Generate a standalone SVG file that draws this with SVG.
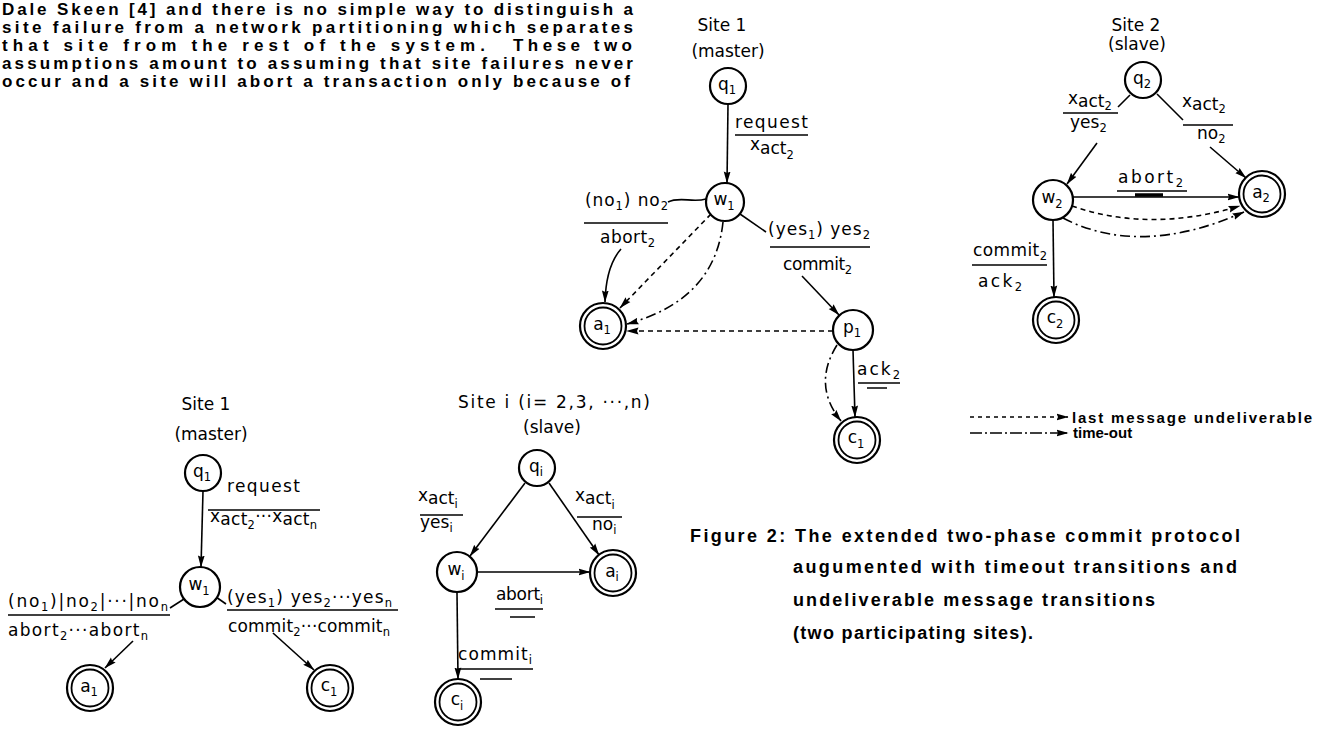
<svg xmlns="http://www.w3.org/2000/svg" width="1325" height="737" viewBox="0 0 1325 737">
<defs>
<marker id="ah" viewBox="0 0 12 8" refX="11.5" refY="4" markerWidth="12" markerHeight="8" markerUnits="userSpaceOnUse" orient="auto"><path d="M0,0.6 L12,4 L0,7.4 L1.5,4 z" fill="#000"/></marker>
</defs>
<style>
.para{font-family:"Liberation Sans",Arial,sans-serif;font-weight:bold;font-size:17px;fill:#000}
.cap{font-family:"Liberation Sans",Arial,sans-serif;font-weight:bold;font-size:18px;fill:#000}
.leg{font-family:"Liberation Sans",Arial,sans-serif;font-weight:bold;font-size:15px;fill:#000}
.lbl{font-family:"DejaVu Sans",sans-serif;font-size:17px;fill:#000}
.ttl{font-family:"DejaVu Sans",sans-serif;font-size:17px;fill:#000}
.nd{font-family:"DejaVu Sans",sans-serif;font-size:17px;fill:#000;text-anchor:middle}
.sub{font-size:11.5px}
.c{fill:#fff;stroke:#000;stroke-width:2.2}
.ci{fill:none;stroke:#000;stroke-width:1.8}
.e{fill:none;stroke:#000;stroke-width:1.6}
.ea{fill:none;stroke:#000;stroke-width:1.6;marker-end:url(#ah)}
.dash{stroke-dasharray:5 4}
.dd{stroke-dasharray:10 4 2 4}
.ul{stroke:#000;stroke-width:1.5}
</style>
<rect width="1325" height="737" fill="#fff"/>

<g id="paragraph">
<text class="para" x="2" y="15" textLength="631" lengthAdjust="spacing">Dale Skeen [4] and there is no simple way to distinguish a</text>
<text class="para" x="2" y="33" textLength="631" lengthAdjust="spacing">site failure from a network partitioning which separates</text>
<text class="para" x="2" y="51" textLength="483" lengthAdjust="spacing">that site from the rest of the system.</text>
<text class="para" x="513" y="51" textLength="119" lengthAdjust="spacing">These two</text>
<text class="para" x="2" y="69" textLength="631" lengthAdjust="spacing">assumptions amount to assuming that site failures never</text>
<text class="para" x="2" y="87" textLength="628" lengthAdjust="spacing">occur and a site will abort a transaction only because of</text>
</g>

<g id="connectors">
<!-- top site 1 -->
<line class="ea" x1="728" y1="104" x2="727" y2="183"/>
<path class="e" d="M668,202 C680,196 692,203 706,199"/>
<path class="ea" d="M621,249 Q606,266 605,302"/>
<line class="ea dash" x1="711" y1="214" x2="620" y2="308"/>
<path class="ea dd" d="M723,222 Q715,300 627,324"/>
<line class="e" x1="740" y1="214" x2="766" y2="232"/>
<line class="ea" x1="802" y1="276" x2="839" y2="315"/>
<line class="ea dash" x1="833" y1="331" x2="627" y2="331"/>
<line class="ea" x1="853" y1="350" x2="855" y2="417"/>
<path class="ea dd" d="M837,345 Q812,385 841,421"/>
<!-- site 2 -->
<line class="e" x1="1130" y1="95" x2="1118" y2="107"/>
<line class="ea" x1="1097" y1="143" x2="1067" y2="184"/>
<line class="e" x1="1157" y1="94" x2="1183" y2="120"/>
<line class="ea" x1="1210" y1="147" x2="1246" y2="178"/>
<line class="ea" x1="1073" y1="197" x2="1239" y2="197"/>
<path class="ea dash" d="M1072,206 Q1150,233 1240,206"/>
<path class="ea dd" d="M1063,218 Q1140,258 1244,212"/>
<line class="ea" x1="1053" y1="220" x2="1054" y2="297"/>
<!-- bottom site 1 -->
<line class="ea" x1="203" y1="491" x2="201" y2="567"/>
<line class="e" x1="184" y1="599" x2="170" y2="608"/>
<line class="ea" x1="133" y1="641" x2="105" y2="668"/>
<line class="e" x1="216" y1="597" x2="226" y2="604"/>
<line class="ea" x1="273" y1="633" x2="314" y2="670"/>
<!-- site i -->
<line class="ea" x1="525" y1="483" x2="470" y2="556"/>
<line class="ea" x1="549" y1="483" x2="599" y2="555"/>
<line class="ea" x1="478" y1="572" x2="590" y2="572"/>
<line class="ea" x1="457" y1="593" x2="458" y2="679"/>
<!-- legend -->
<line class="ea" style="stroke-dasharray:4 4" x1="970" y1="417" x2="1068" y2="417"/>
<line class="ea" style="stroke-dasharray:12 3 2 3" x1="970" y1="433" x2="1068" y2="433"/>
</g>

<!-- Top Site 1 nodes -->
<g id="top1-title">
<text class="ttl" x="722" y="31" text-anchor="middle">Site 1</text>
<text class="ttl" x="728" y="57" text-anchor="middle">(master)</text>
</g>
<g id="top1-q1"><circle class="c" cx="728" cy="86" r="18"/><text class="nd" x="727" y="90">q<tspan class="sub" dy="4">1</tspan></text></g>
<g id="top1-w1"><circle class="c" cx="725" cy="202" r="19"/><text class="nd" x="724" y="205">w<tspan class="sub" dy="5">1</tspan></text></g>
<g id="top1-a1"><circle class="c" cx="603" cy="326" r="23"/><circle class="ci" cx="603" cy="326" r="18.5"/><text class="nd" x="602" y="330">a<tspan class="sub" dy="4">1</tspan></text></g>
<g id="top1-p1"><circle class="c" cx="853" cy="330" r="20"/><text class="nd" x="852" y="333">p<tspan class="sub" dy="4">1</tspan></text></g>
<g id="top1-c1"><circle class="c" cx="857" cy="440" r="23"/><circle class="ci" cx="857" cy="440" r="18.5"/><text class="nd" x="856" y="443">c<tspan class="sub" dy="5">1</tspan></text></g>
<g id="top1-labels">
<text class="lbl" x="735" y="128" textLength="73" lengthAdjust="spacing">request</text>
<line class="ul" x1="735" y1="135" x2="808" y2="135"/>
<text class="lbl" x="750" y="150">x<tspan dy="4">act</tspan><tspan class="sub" dy="5">2</tspan></text>
<text class="lbl" x="585" y="206" textLength="83" lengthAdjust="spacing">(no<tspan class="sub" dy="4">1</tspan><tspan dy="-4">) no</tspan><tspan class="sub" dy="4">2</tspan></text>
<line class="ul" x1="584" y1="223" x2="668" y2="223"/>
<text class="lbl" x="600" y="243" textLength="55" lengthAdjust="spacing">abort<tspan class="sub" dy="4">2</tspan></text>
<text class="lbl" x="768" y="235" textLength="102" lengthAdjust="spacing">(yes<tspan class="sub" dy="4">1</tspan><tspan dy="-4">) yes</tspan><tspan class="sub" dy="4">2</tspan></text>
<line class="ul" x1="770" y1="247" x2="870" y2="247"/>
<text class="lbl" x="783" y="270" textLength="69" lengthAdjust="spacing">commit<tspan class="sub" dy="4">2</tspan></text>
<text class="lbl" x="857" y="375" textLength="43" lengthAdjust="spacing">ack<tspan class="sub" dy="4">2</tspan></text>
<line class="ul" x1="858" y1="383" x2="900" y2="383"/>
<line class="ul" x1="867" y1="388" x2="887" y2="388"/>
</g>

<!-- Site 2 -->
<g id="s2-title">
<text class="ttl" x="1136" y="31" text-anchor="middle">Site 2</text>
<text class="ttl" x="1137" y="50" text-anchor="middle">(slave)</text>
</g>
<g id="s2-q2"><circle class="c" cx="1143" cy="80" r="18"/><text class="nd" x="1142" y="84">q<tspan class="sub" dy="4">2</tspan></text></g>
<g id="s2-w2"><circle class="c" cx="1053" cy="200" r="20"/><text class="nd" x="1052" y="203">w<tspan class="sub" dy="5">2</tspan></text></g>
<g id="s2-a2"><circle class="c" cx="1262" cy="194" r="23"/><circle class="ci" cx="1262" cy="194" r="18.5"/><text class="nd" x="1261" y="198">a<tspan class="sub" dy="4">2</tspan></text></g>
<g id="s2-c2"><circle class="c" cx="1056" cy="320" r="23"/><circle class="ci" cx="1056" cy="320" r="18.5"/><text class="nd" x="1055" y="323">c<tspan class="sub" dy="5">2</tspan></text></g>
<g id="s2-labels">
<text class="lbl" x="1068" y="104">x<tspan dy="3">act</tspan><tspan class="sub" dy="3">2</tspan></text>
<line class="ul" x1="1063" y1="113" x2="1118" y2="113"/>
<text class="lbl" x="1070" y="128">yes<tspan class="sub" dy="4">2</tspan></text>
<text class="lbl" x="1182" y="107">x<tspan dy="3">act</tspan><tspan class="sub" dy="3">2</tspan></text>
<line class="ul" x1="1183" y1="125" x2="1233" y2="125"/>
<text class="lbl" x="1197" y="139">no<tspan class="sub" dy="4">2</tspan></text>
<text class="lbl" x="1118" y="183" textLength="65" lengthAdjust="spacing">abort<tspan class="sub" dy="4">2</tspan></text>
<line class="ul" x1="1117" y1="191" x2="1187" y2="191"/>
<line x1="1135" y1="195" x2="1163" y2="195" stroke="#000" stroke-width="3.5"/>
<text class="lbl" x="973" y="256" textLength="74" lengthAdjust="spacing">commit<tspan class="sub" dy="4">2</tspan></text>
<line class="ul" x1="972" y1="265" x2="1047" y2="265"/>
<text class="lbl" x="978" y="287" textLength="44" lengthAdjust="spacing">ack<tspan class="sub" dy="4">2</tspan></text>
</g>

<!-- Legend -->
<g id="legend">
<text class="leg" x="1072" y="423" textLength="240" lengthAdjust="spacing">last message undeliverable</text>
<text class="leg" x="1073" y="438">time-out</text>
</g>

<!-- Bottom Site 1 -->
<g id="b1-title">
<text class="ttl" x="206" y="410" text-anchor="middle">Site 1</text>
<text class="ttl" x="211" y="440" text-anchor="middle">(master)</text>
</g>
<g id="b1-q1"><circle class="c" cx="203" cy="473" r="18"/><text class="nd" x="202" y="477">q<tspan class="sub" dy="4">1</tspan></text></g>
<g id="b1-w1"><circle class="c" cx="200" cy="587" r="20"/><text class="nd" x="199" y="590">w<tspan class="sub" dy="5">1</tspan></text></g>
<g id="b1-a1"><circle class="c" cx="90" cy="688" r="23"/><circle class="ci" cx="90" cy="688" r="18.5"/><text class="nd" x="89" y="692">a<tspan class="sub" dy="4">1</tspan></text></g>
<g id="b1-c1"><circle class="c" cx="330" cy="688" r="23"/><circle class="ci" cx="330" cy="688" r="18.5"/><text class="nd" x="329" y="691">c<tspan class="sub" dy="5">1</tspan></text></g>
<g id="b1-labels">
<text class="lbl" x="227" y="492" textLength="73" lengthAdjust="spacing">request</text>
<line class="ul" x1="208" y1="510" x2="320" y2="510"/>
<text class="lbl" x="210" y="522" textLength="107" lengthAdjust="spacing">x<tspan dy="3">act</tspan><tspan class="sub" dy="4">2</tspan><tspan dy="-7">···x</tspan><tspan dy="3">act</tspan><tspan class="sub" dy="4">n</tspan></text>
<text class="lbl" x="8" y="607" textLength="160" lengthAdjust="spacing">(no<tspan class="sub" dy="4">1</tspan><tspan dy="-4">)|no</tspan><tspan class="sub" dy="4">2</tspan><tspan dy="-4">|···|no</tspan><tspan class="sub" dy="4">n</tspan></text>
<line class="ul" x1="8" y1="615" x2="170" y2="615"/>
<text class="lbl" x="8" y="636" textLength="140" lengthAdjust="spacing">abort<tspan class="sub" dy="4">2</tspan><tspan dy="-4">···abort</tspan><tspan class="sub" dy="4">n</tspan></text>
<text class="lbl" x="227" y="603" textLength="165" lengthAdjust="spacing">(yes<tspan class="sub" dy="4">1</tspan><tspan dy="-4">) yes</tspan><tspan class="sub" dy="4">2</tspan><tspan dy="-4">···yes</tspan><tspan class="sub" dy="4">n</tspan></text>
<line class="ul" x1="227" y1="610" x2="398" y2="610"/>
<text class="lbl" x="228" y="632" textLength="162" lengthAdjust="spacing">commit<tspan class="sub" dy="4">2</tspan><tspan dy="-4">···commit</tspan><tspan class="sub" dy="4">n</tspan></text>
</g>

<!-- Site i -->
<g id="si-title">
<text class="ttl" x="458" y="408" textLength="192" lengthAdjust="spacing">Site i (i= 2,3, ···,n)</text>
<text class="ttl" x="552" y="433" text-anchor="middle">(slave)</text>
</g>
<g id="si-qi"><circle class="c" cx="537" cy="468" r="18"/><text class="nd" x="536" y="472">q<tspan class="sub" dy="4">i</tspan></text></g>
<g id="si-wi"><circle class="c" cx="457" cy="572" r="20"/><text class="nd" x="456" y="575">w<tspan class="sub" dy="5">i</tspan></text></g>
<g id="si-ai"><circle class="c" cx="613" cy="573" r="23"/><circle class="ci" cx="613" cy="573" r="18.5"/><text class="nd" x="612" y="577">a<tspan class="sub" dy="4">i</tspan></text></g>
<g id="si-ci"><circle class="c" cx="458" cy="702" r="23"/><circle class="ci" cx="458" cy="702" r="18.5"/><text class="nd" x="457" y="705">c<tspan class="sub" dy="5">i</tspan></text></g>
<g id="si-labels">
<text class="lbl" x="418" y="501">x<tspan dy="3">act</tspan><tspan class="sub" dy="4">i</tspan></text>
<line class="ul" x1="420" y1="515" x2="463" y2="515"/>
<text class="lbl" x="420" y="528">yes<tspan class="sub" dy="4">i</tspan></text>
<text class="lbl" x="575" y="501">x<tspan dy="3">act</tspan><tspan class="sub" dy="5">i</tspan></text>
<line class="ul" x1="577" y1="517" x2="622" y2="517"/>
<text class="lbl" x="592" y="530">no<tspan class="sub" dy="4">i</tspan></text>
<text class="lbl" x="496" y="600" textLength="47" lengthAdjust="spacing">abort<tspan class="sub" dy="4">i</tspan></text>
<line class="ul" x1="495" y1="609" x2="543" y2="609"/>
<line class="ul" x1="510" y1="617" x2="535" y2="617"/>
<text class="lbl" x="458" y="660" textLength="74" lengthAdjust="spacing">commit<tspan class="sub" dy="4">i</tspan></text>
<line class="ul" x1="458" y1="669" x2="533" y2="669"/>
<line class="ul" x1="480" y1="679" x2="512" y2="679"/>
</g>

<!-- Caption -->
<g id="caption">
<text class="cap" x="690" y="542" textLength="550" lengthAdjust="spacing">Figure 2: The extended two-phase commit protocol</text>
<text class="cap" x="793" y="573" textLength="444" lengthAdjust="spacing">augumented with timeout transitions and</text>
<text class="cap" x="793" y="606" textLength="362" lengthAdjust="spacing">undeliverable message transitions</text>
<text class="cap" x="793" y="639" textLength="240" lengthAdjust="spacing">(two participating sites).</text>
</g>
</svg>
